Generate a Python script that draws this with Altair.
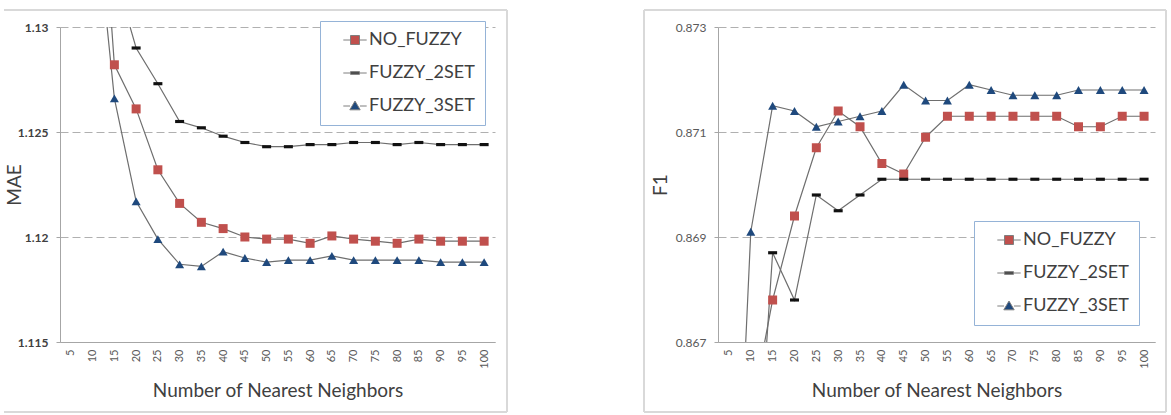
import altair as alt
import pandas as pd

k_labels = ["5", "10", "15", "20", "25", "30", "35", "40", "45", "50",
            "55", "60", "65", "70", "75", "80", "85", "90", "95", "100"]
series_names = ["NO_FUZZY", "FUZZY_2SET", "FUZZY_3SET"]

mae_no_fuzzy = [1.1600, 1.1427, 1.1282, 1.1261, 1.1232, 1.1216, 1.1207, 1.1204, 1.1200, 1.1199,
                1.1199, 1.1197, 1.12005, 1.1199, 1.1198, 1.1197, 1.1199, 1.1198, 1.1198, 1.1198]
mae_2set = [1.1460, 1.1380, 1.1326, 1.1290, 1.1273, 1.1255, 1.1252, 1.1248, 1.1245, 1.1243,
            1.1243, 1.1244, 1.1244, 1.1245, 1.1245, 1.1244, 1.1245, 1.1244, 1.1244, 1.1244]
mae_3set = [1.1520, 1.1368, 1.1266, 1.1217, 1.1199, 1.1187, 1.1186, 1.1193, 1.1190, 1.1188,
            1.1189, 1.1189, 1.1191, 1.1189, 1.1189, 1.1189, 1.1189, 1.1188, 1.1188, 1.1188]

f1_no_fuzzy = [0.8640, 0.8656, 0.8678, 0.8694, 0.8707, 0.8714, 0.8711, 0.8704, 0.8702, 0.8709,
               0.8713, 0.8713, 0.8713, 0.8713, 0.8713, 0.8713, 0.8711, 0.8711, 0.8713, 0.8713]
f1_2set = [0.8620, 0.8624, 0.8687, 0.8678, 0.8698, 0.8695, 0.8698, 0.8701, 0.8701, 0.8701,
           0.8701, 0.8701, 0.8701, 0.8701, 0.8701, 0.8701, 0.8701, 0.8701, 0.8701, 0.8701]
f1_3set = [0.8600, 0.8691, 0.8715, 0.8714, 0.8711, 0.8712, 0.8713, 0.8714, 0.8719, 0.8716,
           0.8716, 0.8719, 0.8718, 0.8717, 0.8717, 0.8717, 0.8718, 0.8718, 0.8718, 0.8718]

mae_ticks = [1.115, 1.12, 1.125, 1.13]
f1_ticks = [0.867, 0.869, 0.871, 0.873]

FONT = "Lato"
fill_colors = ["#c0504d", "#111111", "#1f497d"]
marker_shapes = ["square", "M-1,-0.35H1V0.35H-1Z", "triangle-up"]
legend_shapes = [
    "M-2.6,0H-1M1,0H2.6M-1,-1H1V1H-1Z",
    "M-2.6,0H2.6M-1,-0.3H1V0.3H-1Z",
    "M-2.6,0H-1.1M1.1,0H2.6M0,-1.1L1.15,0.85H-1.15Z",
]
legend_strokes = ["#7f7f7f", "#7f7f7f", "#7f7f7f"]
LINE = "#6e6e6e"
FRAME = "#d9d9d9"


def make_df(vals):
    rows = []
    for name, v in zip(series_names, vals):
        for kk, val in zip(k_labels, v):
            rows.append({"k": kk, "series": name, "value": val})
    return pd.DataFrame(rows)


def panel(vals, ydomain, yticks, ytitle, fmt, w, h, lx, ly, bold, title_x,
          frame_left=None, frame_right=0, frame_top=0, frame_bottom=0):
    df = make_df(vals)
    x = alt.X("k:O", sort=k_labels, title="Number of Nearest Neighbors",
              axis=alt.Axis(labelAngle=270, ticks=False, labelPadding=7,
                            labelFontSize=11, labelColor="#595959", labelFont=FONT,
                            titleFont=FONT, titleFontSize=19, titleColor="#404040",
                            titleFontWeight="normal", titlePadding=13,
                            domainColor="#a6a6a6", grid=False))
    y = alt.Y("value:Q", scale=alt.Scale(domain=ydomain, nice=False, zero=False),
              title=ytitle,
              axis=alt.Axis(values=yticks, format=fmt, grid=True, gridDash=[8, 4],
                            gridColor="#b0b0b0", gridWidth=1,
                            tickSize=4, tickColor="#a6a6a6", domainColor="#a6a6a6",
                            labelPadding=8, labelFont=FONT, labelFontSize=12,
                            labelFontWeight="bold" if bold else "normal",
                            labelColor="#404040" if bold else "#595959",
                            titleFont=FONT, titleFontSize=19, titleColor="#404040",
                            titleFontWeight="normal", titleX=title_x))
    lines = alt.Chart(df).mark_line(clip=True, color=LINE, strokeWidth=1.2).encode(
        x=x, y=y, detail="series:N")
    points = alt.Chart(df).mark_point(filled=True, clip=True, opacity=1, size=81).encode(
        x=x, y=y,
        shape=alt.Shape("series:N", scale=alt.Scale(domain=series_names, range=marker_shapes), legend=None),
        fill=alt.Fill("series:N", scale=alt.Scale(domain=series_names, range=fill_colors), legend=None),
    )
    leg = alt.Legend(title=None, orient="none", legendX=lx, legendY=ly,
                     fillColor="white", strokeColor="#95b3d7",
                     padding=10, rowPadding=15, symbolOffset=16, labelOffset=5,
                     labelFont=FONT, labelFontSize=18, labelColor="#404040",
                     symbolSize=81, symbolStrokeWidth=1, symbolOpacity=1,
                     labelExpr="datum.label + '\u00a0\u00a0\u00a0\u00a0'")
    legend_layer = alt.Chart(df).transform_filter("false").mark_point(
        filled=False, opacity=1, strokeWidth=1).encode(
        x=x, y=y,
        shape=alt.Shape("series:N", scale=alt.Scale(domain=series_names, range=legend_shapes), legend=leg),
        fill=alt.Fill("series:N", scale=alt.Scale(domain=series_names, range=fill_colors), legend=leg),
        stroke=alt.Stroke("series:N", scale=alt.Scale(domain=series_names, range=legend_strokes), legend=leg),
    )
    one = alt.Data(values=[{"a": 1}])
    fl = frame_left if frame_left is not None else -56
    frames = [
        alt.Chart(one).mark_rule(color=FRAME, strokeWidth=2).encode(
            x=alt.value(fl), x2=alt.value(frame_right), y=alt.value(frame_top)),
        alt.Chart(one).mark_rule(color=FRAME, strokeWidth=2).encode(
            x=alt.value(frame_right), y=alt.value(frame_top), y2=alt.value(frame_bottom)),
        alt.Chart(one).mark_rule(color=FRAME, strokeWidth=2).encode(
            x=alt.value(fl), x2=alt.value(frame_right), y=alt.value(frame_bottom)),
    ]
    if frame_left is not None:
        frames.append(alt.Chart(one).mark_rule(color=FRAME, strokeWidth=2).encode(
            x=alt.value(fl), y=alt.value(frame_top), y2=alt.value(frame_bottom)))
    return alt.layer(*frames, lines, points, legend_layer).resolve_scale(
        shape="independent", fill="independent", stroke="independent").properties(width=w, height=h)


left = panel([mae_no_fuzzy, mae_2set, mae_3set], [1.115, 1.13], mae_ticks, "MAE", "~g",
             435, 315, 260, -6, True, -36,
             frame_left=None, frame_right=447, frame_top=-17, frame_bottom=385)
right = panel([f1_no_fuzzy, f1_2set, f1_3set], [0.867, 0.873], f1_ticks, "F1", ".3f",
              437, 315, 256, 194, False, -48,
              frame_left=-74, frame_right=448, frame_top=-17, frame_bottom=385)

chart = alt.hconcat(left, right, spacing=135).properties(
    padding={"left": 3, "top": 9, "right": 0, "bottom": 0},
    background="white",
).configure_view(stroke=None)

chart.save("out.html", embed_options={"renderer": "svg", "actions": False})
